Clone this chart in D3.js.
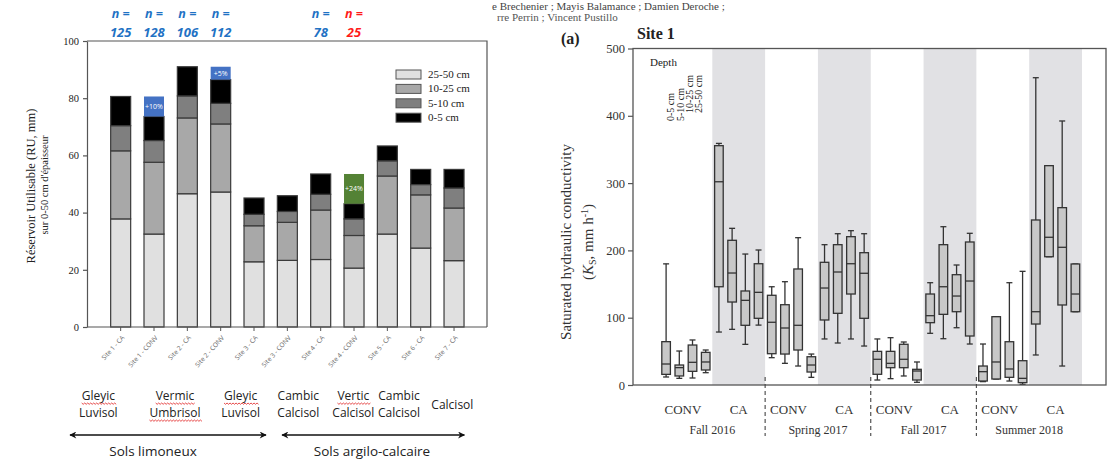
<!DOCTYPE html>
<html><head><meta charset="utf-8">
<script src="https://cdn.jsdelivr.net/npm/d3@7"></script>
<style>body{margin:0;background:#fff}svg{display:block}</style>
</head><body>
<svg id="c" width="1112" height="459"></svg>
<script>
// ---------- LEFT CHART DATA ----------
const sites = ["Site 1 - CA","Site 1 - CONV","Site 2 - CA","Site 2 - CONV","Site 3 - CA","Site 3 - CONV","Site 4 - CA","Site 4 - CONV","Site 5 - CA","Site 6 - CA","Site 7 - CA"];
const layers = ["25-50 cm","10-25 cm","5-10 cm","0-5 cm"];
const ru2550 = [37.8,32.5,46.6,47.2,22.8,23.3,23.6,20.6,32.5,27.6,23.2];
const ru1025 = [23.8,25.1,26.5,23.8,12.6,13.3,17.3,11.4,20.3,18.6,18.4];
const ru510  = [8.8,7.6,7.7,7.2,4.0,3.8,5.5,5.8,5.3,3.6,7.0];
const ru05   = [10.2,8.4,10.2,8.3,5.7,5.5,7.1,5.3,5.2,5.3,6.5];
const gainSite  = ["Site 1 - CONV","Site 2 - CONV","Site 4 - CONV"];
const gainValue = [7.0,4.5,10.4];
const gainLabel = ["+10%","+5%","+24%"];
const nSite  = ["Site 1 - CA","Site 1 - CONV","Site 2 - CA","Site 2 - CONV","Site 4 - CA","Site 4 - CONV"];
const nValue = ["125","128","106","112","78","25"];
const ruTicks = [0,20,40,60,80,100];
const soilNames = [["Gleyic","Luvisol"],["Vermic","Umbrisol"],["Gleyic","Luvisol"],["Cambic","Calcisol"],["Vertic","Calcisol"],["Cambic","Calcisol"],["Calcisol"]];
const soilSpell = [[1,0],[1,1],[1,0],[0,0],[1,0],[0,0],[0]];
const soilAt = [-0.67,1.63,3.6,5.33,6.98,8.35,9.95];       // position in site-index units
const groupNames = ["Sols limoneux","Sols argilo-calcaire"];
const groupFrom = [-1.52,4.84], groupTo = [4.36,10.31], groupAt = [0.97,7.54];

// ---------- RIGHT CHART DATA ----------
const ksSeasons = ["Fall 2016","Spring 2017","Fall 2017","Summer 2018"];
const ksTreat = ["CONV","CA"];
const ksDepth = ["0-5 cm","5-10 cm","10-25 cm","25-50 cm"];
// order: season -> treatment -> depth
const ksLow  = [11.9,9.9,10.4,18.3, 78.7,82.7,60.4,89, 40.6,32.2,28.2,11.4, 68.4,62.4,68.4,57.9, 7.4,9.4,13.4,4, 76.8,68.8,85.1,60.9, 5,8.9,5.9,1, 44.6,190.6,28.2,108.9];
const ksQ1   = [15.8,13.4,20.3,22.3, 146,123.3,88.7,99.1, 46.5,46,52,19.3, 96.6,106.5,135.2,99.1, 15.9,25.7,25.7,7.4, 92.6,105,108.9,72.8, 5.9,8.9,11.4,3.5, 90.6,190.6,118.9,108.9];
const ksMed  = [31.2,25.8,33.7,34.2, 302,166.4,125.8,137.7, 93.2,84.7,88.7,29.7, 144.1,167.9,180.2,166, 38.2,32.2,38.2,20.8, 103,146,132.2,154.5, 19.8,34.2,23.8,9.9, 108.9,219.5,204.6,135.2];
const ksQ3   = [64.4,29.7,59.4,48.5, 355.6,215,139.7,180.2, 133.3,119.3,172.4,42, 182.3,208.5,220.4,196.6, 50,50,60.5,23.3, 135.2,208.5,163.9,212.5, 28.2,101.5,64.3,36.1, 245.2,325.9,263.5,179.8];
const ksHigh = [180,50.5,66.9,52, 359,232.8,194.6,200.6, 146,153.5,218.9,46, 208.5,224.8,229.3,224.8, 68.4,70.3,63.9,34.2, 152,235.2,178.3,225.4, 60.9,101.5,152,168.9, 456.6,325.9,392.3,179.8];
const ksTicks = [0,100,200,300,400,500];

const svg = d3.select("#c");
const serif = "'Liberation Serif','Times New Roman',serif";
const sans = "'Open Sans','Liberation Sans',sans-serif";

// ================= LEFT CHART =================
const L = {x0:87, x1:487, y0:41, y1:327};
const yL = d3.scaleLinear().domain([0,100]).range([L.y1, L.y0]);
const xL = d3.scaleBand().domain(sites).range([104,470.7]).paddingInner(0.4).paddingOuter(0.2);
const idx = d3.scaleLinear().domain([0,10]).range([xL(sites[0])+xL.bandwidth()/2, xL(sites[10])+xL.bandwidth()/2]);
const colors = d3.scaleOrdinal().domain(layers).range(["#e0e0e0","#a8a8a8","#7f7f7f","#000000"]);

const ruRows = sites.map((s,i)=>({site:s,"25-50 cm":ru2550[i],"10-25 cm":ru1025[i],"5-10 cm":ru510[i],"0-5 cm":ru05[i]}));
const stack = d3.stack().keys(layers)(ruRows);

const gl = svg.append("g");
gl.append("path").attr("d",`M${L.x0},${L.y0}H${L.x1}V${L.y1}`).attr("fill","none").attr("stroke","#555").attr("stroke-width",1.2);

stack.forEach(layer=>{
  gl.append("g").selectAll("rect").data(layer).join("rect")
    .attr("x",d=>xL(d.data.site)).attr("width",xL.bandwidth())
    .attr("y",d=>yL(d[1])).attr("height",d=>yL(d[0])-yL(d[1]))
    .attr("fill",colors(layer.key)).attr("stroke","#3a3a3a").attr("stroke-width",1.2);
});
const totals = ruRows.map(r=>layers.reduce((a,k)=>a+r[k],0));
gainSite.forEach((s,i)=>{
  const t = totals[sites.indexOf(s)];
  const c = gainLabel[i]==="+24%" ? "#548235" : "#4472c4";
  gl.append("rect").attr("x",xL(s)).attr("width",xL.bandwidth())
    .attr("y",yL(t+gainValue[i])).attr("height",yL(t)-yL(t+gainValue[i])).attr("fill",c);
  gl.append("text").attr("x",xL(s)+xL.bandwidth()/2).attr("y",(yL(t)+yL(t+gainValue[i]))/2+2.5)
    .attr("text-anchor","middle").attr("font-family",sans).attr("font-size",7).attr("fill","#fff").text(gainLabel[i]);
});

const ayL = gl.append("g").attr("transform",`translate(${L.x0},0)`)
  .call(d3.axisLeft(yL).tickValues(ruTicks).tickSize(4).tickPadding(4).tickSizeOuter(0));
ayL.selectAll("text").attr("font-family",serif).attr("font-size",10.5).attr("fill","#222");
ayL.selectAll("line,path").attr("stroke","#555").attr("stroke-width",1.2);
const axL = gl.append("g").attr("transform",`translate(0,${L.y1})`)
  .call(d3.axisBottom(xL).tickSize(4).tickSizeOuter(0));
axL.select("path").attr("d",`M${L.x0},0H${L.x1}`).attr("stroke","#555").attr("stroke-width",1.2);
axL.selectAll("line").attr("stroke","#555");
axL.selectAll("text").attr("font-family",sans).attr("font-size",6.5).attr("fill","#666")
  .attr("text-anchor","end").attr("dy",0).attr("y",0)
  .attr("transform","translate(4,11) rotate(-48)");

gl.append("text").attr("transform","translate(35,186) rotate(-90)").attr("text-anchor","middle")
  .attr("font-family",serif).attr("font-size",12.5).attr("fill","#222").text("Réservoir Utilisable (RU, mm)");
gl.append("text").attr("transform","translate(48,185) rotate(-90)").attr("text-anchor","middle")
  .attr("font-family",serif).attr("font-size",10.5).attr("fill","#222").text("sur 0-50 cm d'épaisseur");

const lg = gl.append("g");
layers.forEach((k,i)=>{
  const yy = 70 + i*14.4;
  lg.append("rect").attr("x",396).attr("y",yy).attr("width",25).attr("height",9)
    .attr("fill",colors(k)).attr("stroke","#555").attr("stroke-width",1);
  lg.append("text").attr("x",428).attr("y",yy+8).attr("font-family",serif).attr("font-size",11).attr("fill","#222").text(k);
});

nSite.forEach((s,i)=>{
  const c = nValue[i]==="25" ? "#ff1a1a" : "#1f72c4";
  const cx = xL(s)+xL.bandwidth()/2;
  gl.append("text").attr("x",cx).attr("y",18).attr("text-anchor","middle").attr("font-family",sans)
    .attr("font-size",12.5).attr("font-weight","bold").attr("font-style","italic").attr("fill",c).text("n =");
  gl.append("text").attr("x",cx).attr("y",37).attr("text-anchor","middle").attr("font-family",sans)
    .attr("font-size",13).attr("font-weight","bold").attr("font-style","italic").attr("fill",c).text(nValue[i]);
});

soilNames.forEach((lines,i)=>{
  const cx = idx(soilAt[i]);
  const base = lines.length===1 ? [409] : [400,417];
  lines.forEach((w,j)=>{
    const t = gl.append("text").attr("x",cx).attr("y",base[j]).attr("text-anchor","middle")
      .attr("font-family",sans).attr("font-size",12).attr("fill","#222").text(w);
    if (soilSpell[i][j]) {
      const len = t.node().getComputedTextLength();
      const x0 = cx-len/2, y0 = base[j]+3;
      let d = `M${x0},${y0}`;
      for (let x=x0, k=0; x<x0+len; x+=1.5, k++) d += `L${x+1.5},${y0+(k%2?0:1.3)}`;
      gl.append("path").attr("d",d).attr("fill","none").attr("stroke","#e02020").attr("stroke-width",0.8);
    }
  });
});
const defs = svg.append("defs");
defs.append("marker").attr("id","ah").attr("viewBox","0 0 10 10").attr("refX",9).attr("refY",5)
  .attr("markerWidth",9).attr("markerHeight",7).attr("markerUnits","userSpaceOnUse").attr("orient","auto-start-reverse")
  .append("path").attr("d","M0,0L10,5L0,10L3,5Z").attr("fill","#111");
groupNames.forEach((g,i)=>{
  gl.append("line").attr("x1",idx(groupFrom[i])).attr("x2",idx(groupTo[i])).attr("y1",435).attr("y2",435)
    .attr("stroke","#111").attr("stroke-width",1.3)
    .attr("marker-start","url(#ah)").attr("marker-end","url(#ah)");
  gl.append("text").attr("x",idx(groupAt[i])).attr("y",456).attr("text-anchor","middle")
    .attr("font-family",sans).attr("font-size",13.5).attr("fill","#222").text(g);
});

// ================= RIGHT CHART =================
const R = {x0:633, x1:1106, y0:48.5, y1:385};
const yR = d3.scaleLinear().domain([0,500]).range([R.y1, R.y0]);
const groups = [];
ksSeasons.forEach(s=>ksTreat.forEach(t=>groups.push(s+"|"+t)));
const xR = d3.scaleBand().domain(groups).range([659.5,1082]).padding(0);
const xD = d3.scaleBand().domain(ksDepth).range([0,xR.bandwidth()]).padding(0);
const gr = svg.append("g");

gr.append("text").attr("x",492).attr("y",10).attr("font-family",serif).attr("font-size",11).attr("fill","#444")
  .text("e Brechenier ; Mayis Balamance ; Damien Deroche ;");
gr.append("text").attr("x",497).attr("y",21).attr("font-family",serif).attr("font-size",11).attr("fill","#555")
  .text("rre Perrin ; Vincent Pustillo");

gr.selectAll("rect.sh").data(groups.filter(g=>g.endsWith("|CA"))).join("rect").attr("class","sh")
  .attr("x",d=>xR(d)).attr("width",xR.bandwidth()).attr("y",R.y0).attr("height",R.y1-R.y0).attr("fill","#e1e1e4");

const ksRows = [];
groups.forEach((g,gi)=>ksDepth.forEach((d,di)=>{
  const i = gi*4+di;
  ksRows.push({g,d,low:ksLow[i],q1:ksQ1[i],med:ksMed[i],q3:ksQ3[i],high:ksHigh[i]});
}));
const bw = 8.6, cw = 6;
const bx = gr.append("g").selectAll("g").data(ksRows).join("g")
  .attr("transform",r=>`translate(${xR(r.g)+xD(r.d)+xD.bandwidth()/2},0)`);
bx.append("line").attr("y1",r=>yR(r.high)).attr("y2",r=>yR(r.low)).attr("stroke","#333").attr("stroke-width",1.3);
bx.append("line").attr("x1",-cw/2).attr("x2",cw/2).attr("y1",r=>yR(r.high)).attr("y2",r=>yR(r.high)).attr("stroke","#333").attr("stroke-width",1.3);
bx.append("line").attr("x1",-cw/2).attr("x2",cw/2).attr("y1",r=>yR(r.low)).attr("y2",r=>yR(r.low)).attr("stroke","#333").attr("stroke-width",1.3);
bx.append("rect").attr("x",-bw/2).attr("width",bw).attr("y",r=>yR(r.q3)).attr("height",r=>yR(r.q1)-yR(r.q3))
  .attr("fill","#c8c8c8").attr("stroke","#333").attr("stroke-width",1.3);
bx.append("line").attr("x1",-bw/2).attr("x2",bw/2).attr("y1",r=>yR(r.med)).attr("y2",r=>yR(r.med)).attr("stroke","#333").attr("stroke-width",1.3);

gr.append("rect").attr("x",R.x0).attr("y",R.y0).attr("width",R.x1-R.x0).attr("height",R.y1-R.y0)
  .attr("fill","none").attr("stroke","#555").attr("stroke-width",1.3);
const ayR = gr.append("g").attr("transform",`translate(${R.x0},0)`)
  .call(d3.axisLeft(yR).tickValues(ksTicks).tickSize(5).tickPadding(3).tickSizeOuter(0));
ayR.select("path").remove();
ayR.selectAll("line").attr("stroke","#555").attr("stroke-width",1.2);
ayR.selectAll("text").attr("font-family",serif).attr("font-size",12.5).attr("fill","#333");

ksSeasons.slice(1).forEach(s=>{
  const x = xR(s+"|CONV");
  gr.append("line").attr("x1",x).attr("x2",x).attr("y1",377).attr("y2",436)
    .attr("stroke","#444").attr("stroke-width",1.1).attr("stroke-dasharray","4,3");
});
groups.forEach(g=>{
  gr.append("text").attr("x",xR(g)+xR.bandwidth()/2 + (g.endsWith("CONV")?-3:0)).attr("y",414).attr("text-anchor","middle")
    .attr("font-family",serif).attr("font-size",13).attr("fill","#333").text(g.split("|")[1]);
});
ksSeasons.forEach(s=>{
  gr.append("text").attr("x",xR(s+"|CA")).attr("y",434).attr("text-anchor","middle")
    .attr("font-family",serif).attr("font-size",12).attr("fill","#333").text(s);
});

gr.append("text").attr("transform","translate(571,242) rotate(-90)").attr("text-anchor","middle")
  .attr("font-family",serif).attr("font-size",15).attr("fill","#333").text("Saturated hydraulic conductivity");
const yl2 = gr.append("text").attr("transform","translate(593,242) rotate(-90)").attr("text-anchor","middle")
  .attr("font-family",serif).attr("font-size",15).attr("fill","#333");
yl2.append("tspan").text("(");
yl2.append("tspan").attr("font-style","italic").text("K");
yl2.append("tspan").attr("font-size",10).attr("dy",3).text("S");
yl2.append("tspan").attr("dy",-3).text(", mm h");
yl2.append("tspan").attr("font-size",10).attr("dy",-5).text("-1");
yl2.append("tspan").attr("dy",5).text(")");

gr.append("text").attr("x",561).attr("y",44).attr("font-family",serif).attr("font-size",16).attr("font-weight","bold").attr("fill","#222").text("(a)");
gr.append("text").attr("x",637).attr("y",39).attr("font-family",serif).attr("font-size",16).attr("font-weight","bold").attr("fill","#222").text("Site 1");

gr.append("text").attr("x",650).attr("y",66).attr("font-family",serif).attr("font-size",11).attr("fill","#222").text("Depth");
const depthX = [674,683.5,692.5,701.5], depthY = [121,121,113,113];
ksDepth.forEach((d,i)=>{
  gr.append("text").attr("transform",`translate(${depthX[i]},${depthY[i]}) rotate(-90)`)
    .attr("font-family",serif).attr("font-size",10).attr("fill","#222").text(d);
});
</script>
</body></html>
